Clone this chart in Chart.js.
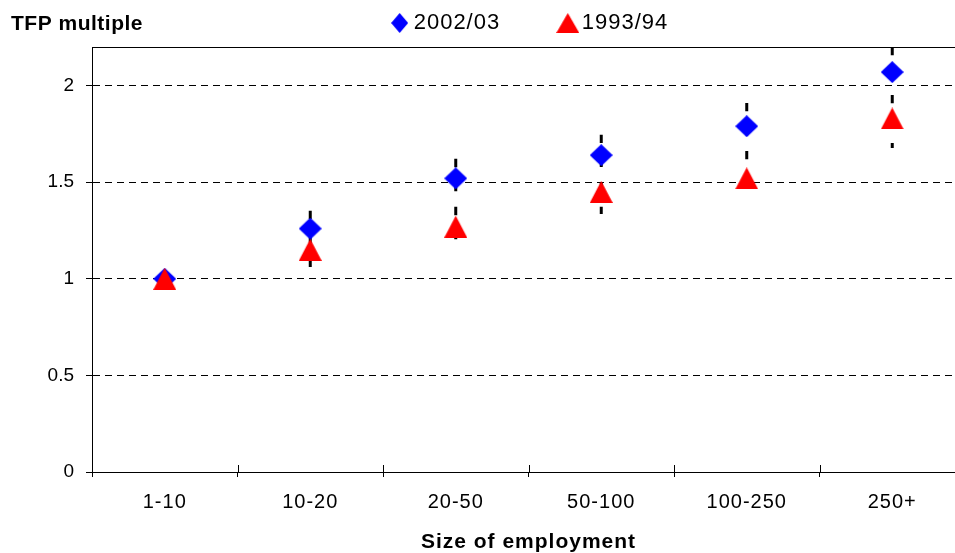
<!DOCTYPE html>
<html><head><meta charset="utf-8">
<script src="https://cdn.jsdelivr.net/npm/chart.js@4.4.1/dist/chart.umd.min.js"></script>
<style>
html,body{margin:0;padding:0;background:#fff;overflow:hidden;}
#wrap{width:1057px;height:553px;position:relative;}
</style></head><body>
<div id="wrap"><canvas id="c" width="1057" height="553"></canvas></div>
<script>
// ---- data ----
const categories = ['1-10', '10-20', '20-50', '50-100', '100-250', '250+'];
const tfp2002 = [1.00, 1.26, 1.52, 1.64, 1.79, 2.07];
const tfp1993 = [1.00, 1.15, 1.27, 1.45, 1.52, 1.83];
const rangeHigh = [null, 1.352, 1.621, 1.746, 1.910, 2.20];
const rangeLow  = [null, 1.058, 1.202, 1.336, 1.470, 1.677];
const yTicks = [0, 0.5, 1, 1.5, 2];
const seriesNames = ['2002/03', '1993/94'];
const yTitle = 'TFP multiple';
const xTitle = 'Size of employment';

// ---- styling ----
const FAMILY = "'Liberation Sans', Arial, sans-serif";
const LS = '1px';
function makeImg(w, h, color, shape) {
  const c = document.createElement('canvas'); c.width = w; c.height = h;
  const g = c.getContext('2d'); g.fillStyle = color; g.beginPath();
  if (shape === 'diamond') { g.moveTo(w/2, 0); g.lineTo(w, h/2); g.lineTo(w/2, h); g.lineTo(0, h/2); }
  else { g.moveTo(w/2, 0); g.lineTo(w, h); g.lineTo(0, h); }
  g.closePath(); g.fill(); return c;
}
const diaImg = makeImg(23, 22, '#0000FF', 'diamond');
const triImg = makeImg(23, 22, '#FF0000', 'triangle');
const legDia = makeImg(17, 20, '#0000FF', 'diamond');
const legTri = makeImg(23, 20, '#FF0000', 'triangle');

const rangePts = [];
categories.forEach((c, i) => {
  if (rangeHigh[i] != null) rangePts.push({x: c, y: rangeHigh[i]}, {x: c, y: rangeLow[i]}, {x: c, y: null});
});

Chart.defaults.font.family = FAMILY;
Chart.defaults.font.size = 20;
Chart.defaults.color = '#000';

const LEG_PAD = 64.6;
const PAD_L = 8;

const helperPlugin = {
  id: 'helper',
  beforeLayout(chart) { chart.ctx.letterSpacing = LS; },
  afterLayout(chart) {
    const lg = chart.legend;
    if (lg) { lg.top = 12 - LEG_PAD; lg.bottom = 47; }
  },
  beforeDraw(chart) { chart.ctx.letterSpacing = LS; },
  beforeDatasetsDraw(chart) {
    // inner half of the category tick marks (they cross the axis)
    const ctx = chart.ctx, xs = chart.scales.x, b = chart.chartArea.bottom;
    ctx.save();
    ctx.strokeStyle = '#000'; ctx.lineWidth = 1;
    ctx.beginPath();
    for (let i = 0; i <= categories.length; i++) {
      const px = Math.round(xs.getPixelForValue(i - 0.5)) + 0.5;
      ctx.moveTo(px, b - 7); ctx.lineTo(px, b);
    }
    ctx.stroke();
    ctx.restore();
  },
  afterDatasetsDraw(chart) { chart.ctx.letterSpacing = '0px'; },
  afterDraw(chart) {
    const ctx = chart.ctx;
    ctx.save();
    ctx.letterSpacing = '0.5px';
    ctx.font = 'bold 21px ' + FAMILY;
    ctx.fillStyle = '#000'; ctx.textAlign = 'left'; ctx.textBaseline = 'alphabetic';
    ctx.fillText(yTitle, 11, 30);
    ctx.restore();
  }
};

new Chart(document.getElementById('c'), {
  type: 'line',
  data: {
    labels: categories,
    datasets: [
      { label: seriesNames[0], data: tfp2002, showLine: false, pointStyle: diaImg, pointRadius: 11, order: 2 },
      { label: seriesNames[1], data: tfp1993, showLine: false, pointStyle: triImg, pointRadius: 11, order: 1 },
      { label: 'range', data: rangePts, borderColor: '#000', borderWidth: 3, borderDash: [8.3, 15.7],
        borderCapStyle: 'butt', pointRadius: 0, spanGaps: false, order: 3 }
    ]
  },
  options: {
    responsive: false, animation: false, devicePixelRatio: 1, events: [],
    layout: { padding: { left: PAD_L, right: 0, top: 0, bottom: 0 } },
    plugins: {
      tooltip: { enabled: false },
      title: { display: false },
      legend: {
        position: 'top', maxHeight: 47,
        labels: {
          usePointStyle: true, pointStyleWidth: 6, padding: LEG_PAD, color: '#000',
          font: { size: 22, family: FAMILY },
          filter: item => item.datasetIndex < 2,
          sort: (a, b) => a.datasetIndex - b.datasetIndex,
          generateLabels: chart => Chart.defaults.plugins.legend.labels.generateLabels(chart).map(it => {
            if (it.datasetIndex === 0) it.pointStyle = legDia;
            if (it.datasetIndex === 1) it.pointStyle = legTri;
            return it;
          })
        }
      }
    },
    scales: {
      x: {
        type: 'category', position: 'bottom', offset: true,
        grid: { offset: true, drawOnChartArea: false, drawTicks: true, tickLength: 5, color: '#000', lineWidth: 1 },
        border: { display: true, color: '#000', width: 1 },
        ticks: { color: '#000', font: { size: 20 }, padding: 13, maxRotation: 0, autoSkip: false },
        title: { display: true, text: xTitle, color: '#000', font: { size: 21, weight: 'bold', lineHeight: 1 }, padding: 0 },
        afterFit: s => { s.height = 81; }
      },
      x2: {
        type: 'category', position: 'top', offset: true, labels: categories,
        grid: { display: false, drawTicks: false },
        border: { display: true, color: '#000', width: 1 },
        ticks: { display: false },
        afterFit: s => { s.height = 0; }
      },
      y: {
        type: 'linear', position: 'left', min: 0, max: 2.2,
        afterBuildTicks: axis => { axis.ticks = yTicks.map(v => ({ value: v })); },
        grid: { color: '#000', lineWidth: 1, drawTicks: true, tickLength: 6, tickColor: '#000' },
        border: { display: true, color: '#000', width: 1, dash: [7, 5] },
        ticks: { color: '#000', font: { size: 19 }, padding: 12, z: 1, callback: v => String(v) },
        afterFit: s => { s.width = 92 - PAD_L; }
      },
      y2: {
        type: 'linear', position: 'right', display: true,
        grid: { display: false, drawTicks: false },
        border: { display: false },
        ticks: { display: false },
        afterFit: s => { s.width = 92; }
      }
    }
  },
  plugins: [helperPlugin]
});
</script>
</body></html>
